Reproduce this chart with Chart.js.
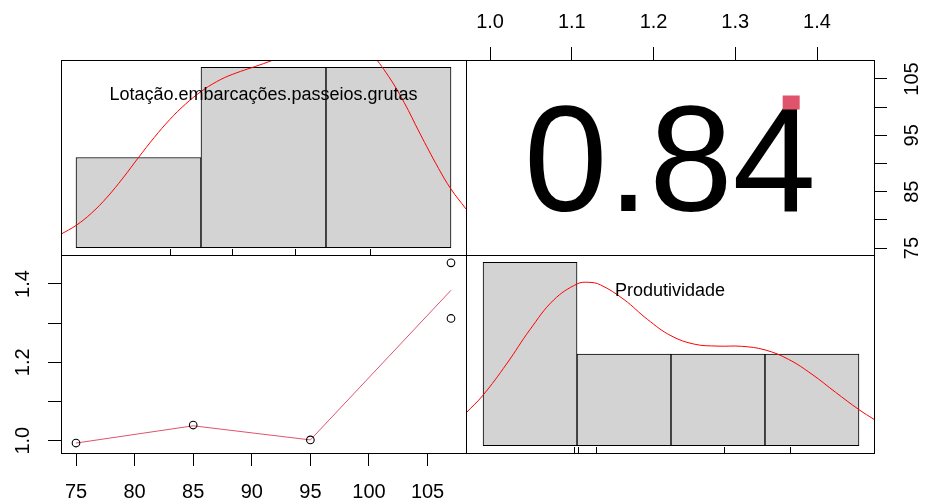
<!DOCTYPE html>
<html>
<head>
<meta charset="utf-8">
<script src="https://cdn.jsdelivr.net/npm/chart.js@4/dist/chart.umd.min.js"></script>
<style>
  html, body { margin: 0; padding: 0; background: #fff; }
  #wrap { position: relative; width: 927px; height: 504px; }
  #wrap canvas { position: absolute; left: 0; top: 0; }
</style>
</head>
<body>
<div id="wrap">
  <canvas id="histLot" width="927" height="504"></canvas>
  <canvas id="corr" width="927" height="504"></canvas>
  <canvas id="scatter" width="927" height="504"></canvas>
  <canvas id="histProd" width="927" height="504"></canvas>
</div>
<script>
// valores
const lotacao = [75, 85, 95, 107, 107];
const produtividade = [0.994, 1.040, 1.002, 1.454, 1.312];

// linha suavizada (painel inferior esquerdo)
const smoothX = [75, 85, 95, 107];
const smoothY = [0.994, 1.038, 1.002, 1.384];

// histogramas
const lotBreaks = [60, 80, 100, 120];
const lotDensity = [0.01, 0.02, 0.02];
const prodBreaks = [0.8, 1.0, 1.2, 1.4, 1.6];
const prodDensity = [2, 1, 1, 1];

// curvas de densidade
const lotCurveX = [57.6, 60, 62.5, 65, 67.5, 70, 72.5, 75, 77.5, 80, 82.5, 85, 90, 95, 100, 105, 107, 110, 112.5, 115, 118, 120, 122.4];
const lotCurveY = [0.00151, 0.00247, 0.00385, 0.00562, 0.00772, 0.0100, 0.0122, 0.0142, 0.0159, 0.0173, 0.0184, 0.0192, 0.0204, 0.0217, 0.0230, 0.0227, 0.0217, 0.0190, 0.0161, 0.0127, 0.0088, 0.0065, 0.0043];
const prodCurveX = [0.764, 0.8, 0.85, 0.9, 0.95, 1.0, 1.025, 1.05, 1.1, 1.15, 1.2, 1.25, 1.3, 1.35, 1.4, 1.45, 1.5, 1.55, 1.6, 1.632];
const prodCurveY = [0.358, 0.551, 0.891, 1.267, 1.588, 1.764, 1.782, 1.754, 1.594, 1.377, 1.199, 1.107, 1.086, 1.084, 1.045, 0.942, 0.779, 0.583, 0.393, 0.287];

// eixos
const lotTicks = [75, 80, 85, 90, 95, 100, 105];
const lotBottomLabels = ['75', '80', '85', '90', '95', '100', '105'];
const lotRightLabels = ['75', '', '85', '', '95', '', '105'];
const prodTicks = [1.0, 1.1, 1.2, 1.3, 1.4];
const prodTopLabels = ['1.0', '1.1', '1.2', '1.3', '1.4'];
const prodLeftLabels = ['1.0', '', '1.2', '', '1.4'];

const corrText = '0.84';
const lotName = 'Lotação.embarcações.passeios.grutas';
const prodName = 'Produtividade';

Chart.defaults.font.family = '"Liberation Sans", Arial, sans-serif';
Chart.defaults.color = '#000';
Chart.defaults.animation = false;
Chart.defaults.responsive = false;
Chart.defaults.plugins.legend.display = false;
Chart.defaults.plugins.tooltip.enabled = false;

const toPoints = (xs, ys) => xs.map((x, i) => ({ x: x, y: ys[i] }));
const toBars = (breaks, dens) => dens.map((d, i) => ({ x: (breaks[i] + breaks[i + 1]) / 2, y: d }));

// moldura de cada painel
const framePlugin = {
  id: 'frame',
  afterDatasetsDraw(chart) {
    const { ctx, chartArea: a } = chart;
    ctx.save();
    ctx.strokeStyle = '#000';
    ctx.lineWidth = 1;
    ctx.strokeRect(Math.round(a.left) + 0.5, Math.round(a.top) + 0.5,
      Math.round(a.right - a.left), Math.round(a.bottom - a.top));
    ctx.restore();
  }
};

// rug + nome da variável nos painéis da diagonal
function diagPlugin(values, name) {
  return {
    id: 'diag',
    afterDraw(chart) {
      const { ctx, chartArea: a } = chart;
      const xs = chart.scales.x;
      ctx.save();
      ctx.strokeStyle = '#000';
      ctx.lineWidth = 1;
      values.forEach(v => {
        const px = Math.round(xs.getPixelForValue(v)) + 0.5;
        ctx.beginPath();
        ctx.moveTo(px, a.bottom);
        ctx.lineTo(px, a.bottom - 6);
        ctx.stroke();
      });
      ctx.fillStyle = '#000';
      ctx.font = '18px "Liberation Sans", Arial, sans-serif';
      ctx.textAlign = 'center';
      ctx.textBaseline = 'middle';
      ctx.fillText(name, (a.left + a.right) / 2, a.top + (a.bottom - a.top) * 0.18);
      ctx.restore();
    }
  };
}

// coeficiente de correlação
const corrPlugin = {
  id: 'corrText',
  afterDraw(chart) {
    const { ctx, chartArea: a } = chart;
    const w = a.right - a.left, h = a.bottom - a.top;
    ctx.save();
    ctx.fillStyle = '#000';
    ctx.font = '150px "Liberation Sans", Arial, sans-serif';
    ctx.textAlign = 'center';
    ctx.textBaseline = 'alphabetic';
    ctx.fillText(corrText, (a.left + a.right) / 2, (a.top + a.bottom) / 2 + 150 * 0.716 / 2);
    ctx.fillStyle = '#DF536B';
    ctx.fillRect(a.left + w * 0.797 - 8.5, a.bottom - h * 0.782 - 7, 17, 14);
    ctx.restore();
  }
};

function axisOpts(position, min, max, ticks, labels, size, pad, rotate) {
  return {
    type: 'linear',
    position: position,
    min: min,
    max: max,
    afterBuildTicks: s => { s.ticks = ticks.map(v => ({ value: v })); },
    afterFit: s => { if (s.isHorizontal()) s.height = size; else s.width = size; },
    grid: { drawOnChartArea: false, drawTicks: true, tickLength: 13, color: '#000', lineWidth: 1 },
    border: { display: false },
    ticks: {
      autoSkip: false,
      padding: pad,
      font: { size: 20 },
      color: '#000',
      minRotation: rotate ? 90 : 0,
      maxRotation: rotate ? 90 : 0,
      crossAlign: rotate ? 'center' : 'near',
      callback: (v, i) => labels[i]
    }
  };
}

// eixo oculto dos histogramas: ticks nas quebras para que as barras ocupem a classe inteira
function histAxis(min, max, breaks) {
  return {
    type: 'linear', min: min, max: max, offset: false, display: false,
    afterBuildTicks: s => { s.ticks = breaks.map(v => ({ value: v })); }
  };
}

// painel superior esquerdo: histograma da lotação
new Chart(document.getElementById('histLot'), {
  type: 'bar',
  data: {
    datasets: [
      { type: 'line', data: toPoints(lotCurveX, lotCurveY), borderColor: '#FF0000', borderWidth: 1,
        pointRadius: 0, tension: 0.4, fill: false, order: 0 },
      { type: 'bar', data: toBars(lotBreaks, lotDensity), backgroundColor: '#D3D3D3', borderColor: '#000',
        borderWidth: 1, borderSkipped: false, barPercentage: 1, categoryPercentage: 1, order: 1 }
    ]
  },
  options: {
    layout: { padding: { left: 61, top: 60, right: 461, bottom: 249 } },
    scales: {
      x: histAxis(57.6, 122.4, lotBreaks),
      y: { min: -0.0008, max: 0.0208, display: false }
    }
  },
  plugins: [framePlugin, diagPlugin(lotacao, lotName)]
});

// painel superior direito: correlação
new Chart(document.getElementById('corr'), {
  type: 'scatter',
  data: { datasets: [] },
  options: {
    layout: { padding: { left: 466, top: 0, right: 0, bottom: 249 } },
    scales: {
      x: axisOpts('top', 0.9706, 1.4697, prodTicks, prodTopLabels, 60, 13, false),
      y: axisOpts('right', 73.76, 108.37, lotTicks, lotRightLabels, 53, 9, true)
    }
  },
  plugins: [framePlugin, corrPlugin]
});

// painel inferior esquerdo: dispersão
new Chart(document.getElementById('scatter'), {
  type: 'scatter',
  data: {
    datasets: [
      { data: toPoints(lotacao, produtividade), pointRadius: 3.8, pointBorderColor: '#000',
        pointBackgroundColor: 'rgba(0,0,0,0)', pointBorderWidth: 1.1, order: 0 },
      { data: toPoints(smoothX, smoothY), showLine: true, borderColor: '#DF536B', borderWidth: 1,
        pointRadius: 0, tension: 0, order: 1 }
    ]
  },
  options: {
    layout: { padding: { left: 0, top: 255, right: 461, bottom: 0 } },
    scales: {
      x: axisOpts('bottom', 73.72, 108.28, lotTicks, lotBottomLabels, 51, 14, false),
      y: axisOpts('left', 0.9686, 1.474, prodTicks, prodLeftLabels, 61, 11, true)
    }
  },
  plugins: [framePlugin]
});

// painel inferior direito: histograma da produtividade
new Chart(document.getElementById('histProd'), {
  type: 'bar',
  data: {
    datasets: [
      { type: 'line', data: toPoints(prodCurveX, prodCurveY), borderColor: '#FF0000', borderWidth: 1,
        pointRadius: 0, tension: 0.4, fill: false, order: 0 },
      { type: 'bar', data: toBars(prodBreaks, prodDensity), backgroundColor: '#D3D3D3', borderColor: '#000',
        borderWidth: 1, borderSkipped: false, barPercentage: 1, categoryPercentage: 1, order: 1 }
    ]
  },
  options: {
    layout: { padding: { left: 466, top: 255, right: 53, bottom: 51 } },
    scales: {
      x: histAxis(0.7637, 1.632, prodBreaks),
      y: { min: -0.08, max: 2.08, display: false }
    }
  },
  plugins: [framePlugin, diagPlugin(produtividade, prodName)]
});
</script>
</body>
</html>
